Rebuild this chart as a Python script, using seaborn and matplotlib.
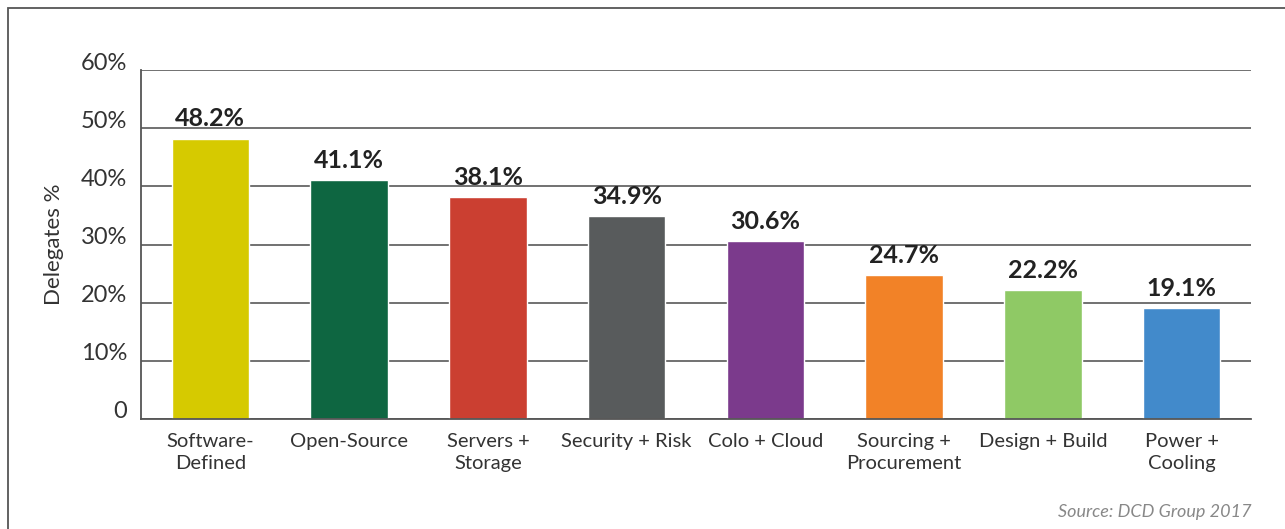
import matplotlib
matplotlib.use("Agg")
import matplotlib.pyplot as plt
import matplotlib.transforms as mtransforms
from matplotlib.patches import Rectangle
from matplotlib.ticker import FixedLocator
import seaborn as sns
import pandas as pd

categories = ["Software-\nDefined", "Open-Source", "Servers +\nStorage", "Security + Risk",
              "Colo + Cloud", "Sourcing +\nProcurement", "Design + Build", "Power +\nCooling"]
values = [48.2, 41.1, 38.1, 34.9, 30.6, 24.7, 22.2, 19.1]
colors = ["#D6CA00", "#0E6641", "#CB3F31", "#585B5C", "#7B3A8C", "#F28227", "#8FC965", "#428ACB"]
yticks = [0, 10, 20, 30, 40, 50, 60]
ytick_labels = ["0", "10%", "20%", "30%", "40%", "50%", "60%"]

sns.set_style("white")
plt.rcParams["font.family"] = ["Lato", "DejaVu Sans"]
text_color = "#333333"

fig = plt.figure(figsize=(12.85, 5.29), dpi=100)
ax = fig.add_axes([141/1285, 1 - 419/529, (1251 - 141)/1285, (419 - 70)/529])

df = pd.DataFrame({"cat": categories, "val": values})
sns.barplot(data=df, x="cat", y="val", hue="cat", palette=colors, width=0.56,
            legend=False, ax=ax, saturation=1)

ax.set_xlim(-0.5, len(categories) - 0.5)
ax.set_ylim(0, 60)
ax.set_yticks(yticks)
ax.set_yticklabels(ytick_labels, fontsize=17, color=text_color)
ax.yaxis.grid(True, color="#666666", linewidth=1.3)
ax.set_axisbelow(True)
ax.tick_params(axis="y", length=0, pad=10)
offset = mtransforms.ScaledTranslation(0, 9/100, fig.dpi_scale_trans)
for lbl in ax.get_yticklabels():
    lbl.set_transform(lbl.get_transform() + offset)

ax.set_xlabel("")
ax.set_ylabel("Delegates %", fontsize=16, color=text_color, labelpad=12)
ax.set_xticks(range(len(categories)))
ax.set_xticklabels(categories, fontsize=14.5, color=text_color, linespacing=1.35)
ax.tick_params(axis="x", which="major", length=0, pad=10)
ax.xaxis.set_minor_locator(FixedLocator([i - 0.5 for i in range(len(categories) + 1)]))
ax.tick_params(axis="x", which="minor", length=9, width=1.3, color="#555555", direction="out")

for s in ["top", "right"]:
    ax.spines[s].set_visible(False)
for s in ["left", "bottom"]:
    ax.spines[s].set_color("#555555")
    ax.spines[s].set_linewidth(1.3)

for c in ax.containers:
    ax.bar_label(c, fmt="%.1f%%", padding=6, fontsize=18, fontweight="bold", color="#222222")

fig.text(1252/1285, 1 - 512/529, "Source: DCD Group 2017", ha="right", va="center",
         fontsize=13, style="italic", color="#888888")

fig.patches.append(Rectangle((8/1285, -0.2), 1.2, 1 - 8/529 + 0.2, transform=fig.transFigure,
                             fill=False, edgecolor="#555555", linewidth=1.3))

fig.savefig("out.png", dpi=100)
